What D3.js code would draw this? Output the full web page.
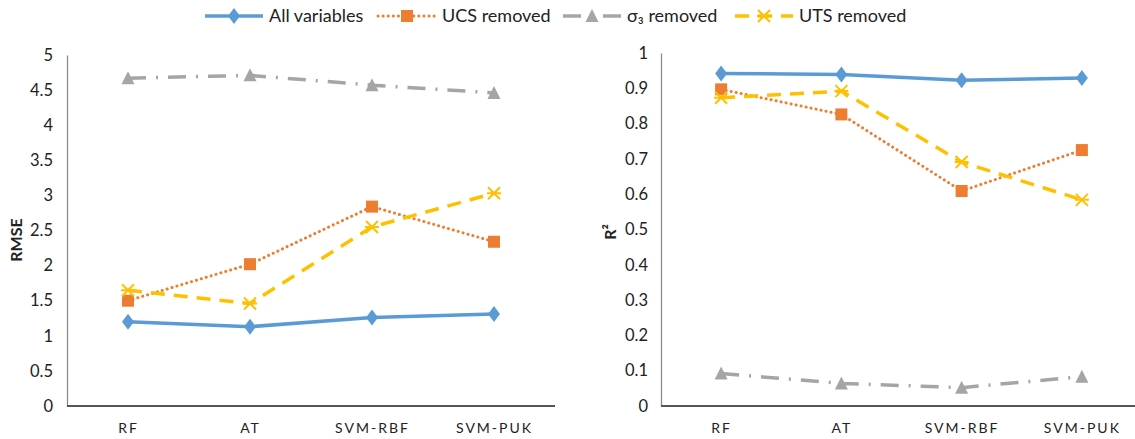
<!DOCTYPE html>
<html>
<head>
<meta charset="utf-8">
<script src="https://cdn.jsdelivr.net/npm/d3@7"></script>
<style>
  body { margin: 0; background: #fff; }
  text { font-family: Lato, "Open Sans", sans-serif; fill: #222; }
</style>
</head>
<body>
<div class="container"></div>
<script>
var width = 1135,
    height = 439;

// categories and series
var models = ["RF", "AT", "SVM-RBF", "SVM-PUK"];
var seriesNames = ["All variables", "UCS removed", "σ₃ removed", "UTS removed"];

var rmseAll = [1.20, 1.13, 1.26, 1.31];
var rmseUCS = [1.50, 2.02, 2.84, 2.34];
var rmseSigma3 = [4.67, 4.71, 4.57, 4.46];
var rmseUTS = [1.65, 1.46, 2.55, 3.03];

var r2All = [0.942, 0.939, 0.923, 0.929];
var r2UCS = [0.897, 0.826, 0.609, 0.725];
var r2Sigma3 = [0.092, 0.064, 0.052, 0.083];
var r2UTS = [0.873, 0.892, 0.691, 0.584];

var rmseTicks = [0, 0.5, 1, 1.5, 2, 2.5, 3, 3.5, 4, 4.5, 5];
var r2Ticks = [0, 0.1, 0.2, 0.3, 0.4, 0.5, 0.6, 0.7, 0.8, 0.9, 1];

var styles = [
  { color: "#5B9BD5", dash: null, width: 3.5, marker: "diamond", cap: "butt" },
  { color: "#ED7D31", dash: "0.1 5", width: 3, marker: "square", cap: "round" },
  { color: "#A5A5A5", dash: "18 10 2 10", width: 3.5, marker: "triangle", cap: "butt" },
  { color: "#FFC000", dash: "14 9", width: 3.5, marker: "cross", cap: "butt" }
];

var svg = d3.select(".container").append("svg")
    .attr("width", width)
    .attr("height", height);

function drawMarker(g, type, color, x, y) {
  if (type === "diamond") {
    g.append("path").attr("d", "M0,-8L6,0L0,8L-6,0Z")
      .attr("transform", "translate(" + x + "," + y + ")")
      .attr("fill", color);
  } else if (type === "square") {
    g.append("rect").attr("x", x - 6).attr("y", y - 6)
      .attr("width", 12).attr("height", 12).attr("fill", color);
  } else if (type === "triangle") {
    g.append("path").attr("d", "M0,-7L6.5,6L-6.5,6Z")
      .attr("transform", "translate(" + x + "," + y + ")")
      .attr("fill", color);
  } else {
    g.append("path").attr("d", "M-6,-6L6,6M6,-6L-6,6M-7,0L7,0")
      .attr("transform", "translate(" + x + "," + y + ")")
      .attr("stroke", color).attr("stroke-width", 2).attr("fill", "none");
  }
}

function panel(opts) {
  var x = d3.scalePoint().domain(models).range([opts.x0, opts.x1]).padding(0.5);
  var y = d3.scaleLinear().domain([0, opts.max]).range([406, opts.top]);
  var g = svg.append("g");

  // y axis
  var yAxis = g.append("g")
    .attr("transform", "translate(" + opts.x0 + ",0)")
    .call(d3.axisLeft(y).tickValues(opts.ticks).tickSize(0).tickPadding(opts.pad).tickFormat(d3.format("")));
  yAxis.select(".domain").attr("stroke", "#8c8c8c").attr("stroke-width", 1.3);
  yAxis.selectAll("text").style("font-size", "16.5px").style("font-family", "Lato, sans-serif").attr("fill", "#222");

  // x axis
  var xAxis = g.append("g")
    .attr("transform", "translate(0,406)")
    .call(d3.axisBottom(x).tickSize(0).tickPadding(17));
  xAxis.select(".domain").attr("stroke", "#555").attr("stroke-width", 2)
    .attr("d", "M" + opts.x0 + ",0H" + opts.x1);
  xAxis.selectAll("text").style("font-size", "14px").style("font-family", "Lato, sans-serif")
    .style("letter-spacing", "2px").attr("fill", "#222");

  // axis title
  g.append("text")
    .attr("transform", "translate(" + opts.titleX + "," + opts.titleY + ") rotate(-90)")
    .attr("text-anchor", "middle")
    .style("font-size", "16px").style("font-weight", "bold")
    .text(opts.title);

  var line = d3.line().x(function(d, i) { return x(models[i]); }).y(function(d) { return y(d); });

  opts.series.forEach(function(vals, k) {
    var s = styles[k];
    g.append("path").datum(vals)
      .attr("d", line)
      .attr("fill", "none")
      .attr("stroke", s.color)
      .attr("stroke-width", s.width)
      .attr("stroke-linecap", s.cap)
      .attr("stroke-dasharray", s.dash);
  });
  opts.series.forEach(function(vals, k) {
    var s = styles[k];
    vals.forEach(function(v, i) { drawMarker(g, s.marker, s.color, x(models[i]), y(v)); });
  });
}

panel({ x0: 67, x1: 555, top: 55, max: 5, ticks: rmseTicks, pad: 14,
        title: "RMSE", titleX: 22, titleY: 240,
        series: [rmseAll, rmseUCS, rmseSigma3, rmseUTS] });

panel({ x0: 661, x1: 1142, top: 53, max: 1, ticks: r2Ticks, pad: 13,
        title: "R²", titleX: 616, titleY: 232,
        series: [r2All, r2UCS, r2Sigma3, r2UTS] });

// legend
var legendX = [205, 378, 563, 735];
var legend = svg.append("g");
seriesNames.forEach(function(name, k) {
  var s = styles[k];
  var lx = legendX[k];
  legend.append("line")
    .attr("x1", lx).attr("x2", lx + 58).attr("y1", 16).attr("y2", 16)
    .attr("stroke", s.color).attr("stroke-width", s.width)
    .attr("stroke-linecap", s.cap)
    .attr("stroke-dasharray", s.dash);
  drawMarker(legend, s.marker, s.color, lx + 29, 16);
  legend.append("text")
    .attr("x", lx + 64).attr("y", 22)
    .style("font-size", "18px")
    .text(name);
});
</script>
</body>
</html>
